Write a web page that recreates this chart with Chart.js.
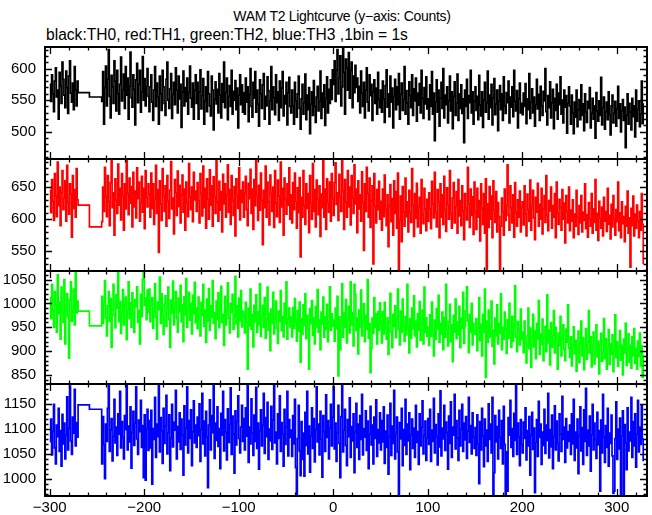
<!DOCTYPE html>
<html>
<head>
<meta charset="utf-8">
<script src="https://cdn.jsdelivr.net/npm/chart.js@4.4.0/dist/chart.umd.min.js"></script>
<style>
  html, body { margin: 0; padding: 0; background: #fff; }
  #wrap { position: relative; width: 652px; height: 515px; overflow: hidden; font-family: "Liberation Sans", Arial, Helvetica, sans-serif; }
  #wrap canvas { position: absolute; left: 0; top: 0; }
  .txt { position: absolute; color: #000; white-space: nowrap; line-height: 1; }
</style>
</head>
<body>
<div id="wrap">
  <div class="txt" id="title" style="left:0; width:684px; text-align:center; top:9px; font-size:14px; letter-spacing:-0.3px;">WAM T2 Lightcurve (y−axis: Counts)</div>
  <div class="txt" id="subtitle" style="left:46px; top:27px; font-size:15.6px;">black:TH0, red:TH1, green:TH2, blue:TH3 ,1bin = 1s</div>
  <canvas id="c0" width="652" height="515"></canvas>
  <canvas id="c1" width="652" height="515"></canvas>
  <canvas id="c2" width="652" height="515"></canvas>
  <canvas id="c3" width="652" height="515"></canvas>
</div>
<script>
// ---- time axis (seconds) ----
const earlyStart = -300;          // first bin of the early segment
const gapTimes = [-270, -258];    // two long bins inside the gap
const mainStart = -245;           // first bin of the main segment
const xMin = -305, xMax = 332;
const xTickLabels = [-300, -200, -100, 0, 100, 200, 300];

// ---- TH0 (black) ----
const th0Early = [575,548,590,560,532,580,601,555,566,520,594,572,545,610,583,558,538,596,570,529,588,612,561,547,577,535,603,566,541,580];
const th0Gap = [562, 555];
const th0Main = [
548,595,512,570,604,541,583,630,556,522,589,571,545,612,580,533,597,560,528,575,618,549,566,591,537,603,558,585,520,572,626,554,539,590,567,511,582,608,546,575,597,531,563,619,550,584,541,572,600,556,
532,571,590,547,518,566,603,540,577,555,512,588,560,534,597,571,545,526,583,610,550,537,568,592,521,559,578,543,601,566,530,588,552,575,507,563,596,541,570,548,585,528,562,604,553,539,577,520,566,590,
545,578,520,563,598,536,557,584,512,549,571,532,595,560,541,525,588,566,503,551,579,544,567,530,592,558,522,576,547,610,538,562,585,519,556,573,540,597,528,564,550,581,535,569,506,558,590,543,574,531,
562,528,585,547,571,516,559,600,540,523,578,553,595,531,566,544,509,582,560,537,574,592,520,556,541,587,565,512,549,603,535,571,554,527,590,546,563,518,580,538,569,595,525,557,544,578,511,562,586,540,
530,566,541,512,578,549,523,560,588,537,504,552,575,528,546,591,519,558,535,570,497,544,563,526,581,540,515,555,572,533,548,596,521,561,539,574,510,553,587,530,567,545,582,551,598,
575,612,548,598,630,560,585,620,541,571,632,594,528,615,601,566,625,553,597,610,538,588,562,605,570,
585,548,572,530,596,561,540,578,522,566,601,547,533,590,557,575,518,563,582,545,569,528,594,551,538,
566,531,580,552,515,573,598,539,560,524,588,547,569,506,556,583,535,571,543,592,520,559,577,534,551,603,528,565,546,512,579,557,538,590,526,568,549,585,517,561,542,576,530,597,553,521,570,544,587,536,
552,519,574,540,595,528,561,486,547,582,531,566,509,553,578,537,600,522,558,543,571,514,549,588,533,563,505,556,579,526,545,591,518,560,537,574,529,552,483,566,540,583,521,557,546,597,530,563,512,548,
571,534,556,519,589,542,525,563,507,550,578,531,546,596,520,558,538,575,511,553,584,527,544,566,502,549,573,535,560,518,587,541,529,562,546,580,514,555,539,571,524,597,548,533,565,506,552,577,530,545,
527,561,540,576,513,552,535,592,521,547,568,530,555,509,543,583,536,559,518,572,541,526,564,549,600,532,511,557,538,579,522,546,567,505,553,534,575,520,561,543,587,528,550,514,566,539,557,498,545,571,
541,512,558,530,497,547,523,566,508,535,551,519,574,526,544,502,560,531,515,548,537,570,506,529,553,520,541,490,562,533,517,549,526,586,511,538,555,504,532,547,519,563,527,495,541,558,514,530,548,509,536,572,521,544,500,533,551,518,539,475,526,560,512,545,531,503,553,524,541,492,566,517,535,549,508,528,580,513,545
];

// ---- TH1 (red) ----
const th1Early = [645,610,662,628,598,671,636,604,689,621,650,590,641,676,615,633,660,597,684,626,608,655,639,572,668,617,646,603,679,630];
const th1Gap = [622, 588];
const th1Main = [
596,650,612,681,635,604,668,627,590,657,694,618,641,575,663,630,609,686,622,648,599,671,637,583,655,616,692,640,607,664,625,651,588,673,619,644,602,680,632,658,597,626,667,611,648,585,676,634,619,655,
640,603,672,617,655,592,631,684,609,646,548,660,624,598,679,637,612,652,589,668,628,601,645,690,616,633,577,662,641,606,675,620,653,594,638,669,611,647,583,658,626,604,687,635,615,650,596,673,630,644,
612,657,629,594,671,640,605,683,618,648,586,663,631,600,677,622,652,589,666,635,609,692,627,597,659,614,643,580,670,624,655,603,638,685,611,646,592,668,629,606,651,574,663,637,617,680,599,645,626,658,
603,641,667,615,590,656,632,678,609,647,584,662,621,693,637,598,653,614,672,629,560,645,618,683,603,658,627,591,669,640,612,650,587,676,625,604,661,636,595,689,619,648,575,664,631,608,655,622,680,600,
638,594,657,615,672,628,586,649,610,665,541,634,603,676,621,592,655,617,640,579,668,625,600,687,612,646,588,661,630,607,652,573,639,618,694,603,647,584,663,626,611,658,597,671,632,
606,657,688,623,641,598,670,635,612,694,645,584,662,627,603,676,619,650,591,668,633,609,685,624,647,579,660,616,638,597,674,626,551,655,612,681,640,603,664,587,629,652,530,671,620,594,646,615,659,600,
628,583,647,604,669,615,590,638,557,621,654,596,632,575,660,609,643,586,672,520,598,636,565,651,612,589,664,604,627,580,645,610,595,679,622,573,640,601,656,588,619,634,578,662,607,593,648,616,582,631,
597,641,616,585,659,624,602,673,610,588,646,627,571,655,603,638,592,667,615,581,649,622,600,676,609,586,633,657,594,620,643,578,662,605,629,590,652,613,568,640,617,599,681,624,587,647,606,635,576,658,
612,584,648,603,629,566,655,617,592,640,578,663,522,624,587,651,600,636,571,660,614,595,643,580,626,604,521,589,633,612,575,647,598,621,685,606,583,652,618,594,638,572,657,610,589,630,603,644,580,619,
627,591,652,608,574,639,615,597,661,583,620,645,602,568,634,611,656,589,623,600,648,577,616,637,595,668,606,582,629,613,650,586,621,603,640,571,658,609,592,631,618,583,646,600,625,563,637,612,594,650,
582,614,597,630,571,608,589,645,603,576,621,594,637,580,611,598,655,585,607,572,626,600,589,640,578,616,595,662,583,609,567,628,601,586,619,574,634,597,612,581,648,592,606,569,623,588,637,600,575,615,596,658,582,610,571,627,593,604,565,620,589,644,578,602,525,617,590,636,574,608,586,622,597,571,612,583,640,592,530
];

// ---- TH2 (green) ----
const th2Early = [1012,968,1040,985,950,1025,997,940,1060,978,1003,925,1034,988,960,1050,915,995,1020,972,885,1008,1045,963,990,1030,955,1066,980,1005];
const th2Gap = [984, 953];
const th2Main = [
1015,958,1002,1048,970,932,995,1025,963,1010,908,987,1040,975,949,1018,990,1066,962,1004,937,980,1029,955,997,1013,924,986,1045,968,1001,950,1022,978,940,1008,993,1035,960,985,915,1019,972,1050,1068,996,1011,966,1028,981,
1030,962,995,1012,948,984,1041,970,925,1003,987,1055,958,1020,973,935,998,1016,952,989,1034,966,908,1007,980,1047,955,993,1025,969,940,1011,983,1038,961,997,920,1014,976,1052,950,988,1023,965,1000,936,1017,978,1044,959,
990,947,1013,968,932,1002,975,1040,952,986,918,1009,963,1031,944,995,971,1048,958,980,926,1005,966,1022,949,992,1036,960,977,912,1015,955,988,1043,969,938,1000,981,1019,946,973,1057,957,995,930,1011,964,1027,951,984,
975,938,1002,961,862,990,953,1030,946,977,909,996,962,1018,940,983,955,1041,931,970,996,950,1012,927,965,1034,944,979,901,988,958,1023,936,969,1005,948,916,984,962,1027,943,973,930,1000,957,1045,925,967,990,951,
972,930,991,948,1010,963,921,985,942,1003,877,968,935,997,954,1020,926,975,947,862,989,958,1006,933,970,915,994,951,1029,940,966,903,982,957,1013,929,972,946,998,920,961,1035,944,978,952,
965,921,990,947,1015,848,972,903,958,1041,929,981,950,1008,917,966,994,938,1045,955,980,911,1040,1019,943,970,894,986,951,1028,932,964,999,920,975,946,1050,927,958,855,905,969,937,1012,950,978,915,983,944,1001,
958,917,983,936,1002,949,925,970,893,961,1021,940,907,977,952,995,928,966,1030,945,913,984,939,1009,956,921,973,934,1040,950,896,968,927,990,947,1016,932,963,909,978,944,1004,923,959,986,915,1034,940,970,931,
950,912,976,931,1003,943,890,965,925,989,947,1017,918,958,936,982,903,970,929,1040,945,911,962,998,920,955,878,975,940,1009,926,961,934,994,907,969,948,1023,916,952,985,1035,964,897,977,939,1000,913,958,942,
935,968,901,949,1012,922,956,890,977,940,1030,845,963,918,986,929,951,1005,910,944,873,969,932,997,915,958,938,1020,903,950,925,982,946,895,966,927,1000,940,908,973,921,955,1037,930,899,962,944,913,988,924,
940,897,963,918,875,932,990,905,948,866,921,977,909,942,884,958,925,1006,893,936,914,967,880,929,952,899,1018,917,944,871,960,908,933,985,896,950,924,862,938,911,973,890,927,955,903,880,946,919,997,906,
887,930,869,912,951,894,923,858,905,942,876,917,963,890,928,861,908,947,883,919,985,896,930,867,911,940,873,902,955,888,921,852,914,937,879,898,968,884,926,862,907,945,872,915,893,934,857,901,976,886,920,868,909,943,881,912,850,925,896,958,870,903,936,877,912,864,930,890,947,874,905,862,921,889,938,869,911,845,892
];

// ---- TH3 (blue) ----
const th3Early = [1075,1120,1048,1096,1150,1062,1030,1108,1085,1142,1055,1097,1025,1130,1070,1112,1040,1088,1165,1058,1101,1187,1076,1049,1124,1092,1180,1066,1113,1084];
const th3Gap = [1149, 1140];
const th3Main = [
1030,1125,1068,1000,1110,1075,1142,1190,1055,1098,1121,1036,1085,1160,1072,1104,1047,1131,1090,1176,1062,1115,1083,1040,1127,1099,1188,1058,1106,1074,1145,1021,1093,1136,1067,1112,1185,1080,1049,1118,1095,1158,1063,1107,1002,1129,997,1101,1140,1057,
1117,1062,1138,989,1101,1079,1164,1043,1110,1085,1188,1054,1123,1096,1031,1142,1071,1106,1168,1050,1093,1129,1016,1082,1150,1064,1114,1098,1178,1040,1105,1074,1133,1059,1120,1089,1007,1147,1068,1102,1185,1052,1117,1081,1139,1026,1095,1157,1072,1108,
1063,1124,1087,1151,1035,1099,1172,1070,1116,1046,1136,1084,982,1108,1159,1058,1127,1093,1190,1041,1112,1077,1145,1065,1101,1020,1132,1088,1176,1056,1119,1094,1038,1141,1073,1109,1183,1049,1126,1090,1011,1137,1068,1115,1167,1081,1052,1104,1148,1075,
1121,1058,1143,1086,1190,1033,1104,1070,1161,1092,1047,1128,1075,1184,1061,1112,1019,1097,1139,1066,1108,1172,1051,1123,1085,1154,1039,1100,1076,1146,1059,1118,1188,1072,1094,1030,1131,1081,1167,1055,1113,1090,1025,1140,1069,1105,1176,1046,1119,1083,
1098,1045,1127,1070,1160,1022,968,1081,1148,1056,1006,1115,1039,1092,1005,1134,1067,1176,1050,1106,1013,1087,1143,1061,1121,1034,1099,1185,1074,1110,1048,1136,1079,1003,1127,1095,1055,1169,1083,1117,1040,1102,1150,1066,1124,
1186,1060,1112,1035,1093,1148,1071,1002,1125,1188,1054,1098,1140,1067,1026,1119,1085,1163,1043,1105,1076,1131,1012,1094,1152,1063,1110,1039,1127,1079,1170,1048,1101,1084,1137,1057,1116,1020,1090,1146,1068,1108,1030,1124,1081,1159,1045,1099,1072,1133,
1058,1117,1074,1145,1031,1096,1063,1128,1009,1085,1152,1047,1106,1071,1178,1040,1091,1124,1054,968,1113,1080,1142,1026,1099,1067,1160,1049,1110,1076,1133,1018,1089,1120,1061,1102,1043,1148,1073,1095,1029,1131,1066,1104,1157,1050,1087,1116,1037,1082,
1121,1069,1140,1035,1098,1075,1162,1052,1109,1085,1028,1131,1064,1177,1046,1102,1080,1148,1057,1114,1093,1019,1126,1071,1155,1043,1104,1088,1170,1060,1117,1082,1037,1138,1066,1099,1150,1055,1112,1078,1125,1041,1096,1164,1073,1107,1050,1133,1084,1061,
1103,1047,1129,1070,990,1115,1058,1142,1086,1024,1120,1066,1098,1035,1151,1079,1110,1052,1164,968,1012,1127,1074,1105,1040,1138,1083,1061,1117,1030,1146,1069,967,1054,975,1123,1088,1158,1063,1101,1045,1132,1077,1190,1049,1112,1085,1026,1119,1068,
1052,1114,1081,1143,1038,1097,1066,1125,1007,1088,1134,1059,1102,972,1073,1119,1045,1156,1083,1110,1029,1094,1067,1140,1051,1108,1077,1172,1042,1099,1064,1128,1020,1085,1147,1058,1116,1071,1036,1131,1090,1055,1166,1079,1104,1033,1121,1062,1095,1075,
1108,1049,1131,1070,1160,1037,1094,1062,1120,1010,1087,1145,1056,1103,1029,1139,1075,1182,1047,1098,1066,1126,1015,1089,1150,1058,1112,1079,1041,1134,1068,1097,975,1118,1052,1170,1084,1033,1107,1063,1142,1025,1092,1071,1128,1046,970,975,1081,1155,1039,1100,1060,1122,968,1086,1137,968,1109,1072,1018,1143,1056,1094,1076,1164,1043,1115,1066,1131,1023,1090,1158,1054,1104,1069,1147,1080,1035
];

// ---- y ranges and tick labels per panel ----
const yRanges = [[457, 634], [519, 694], [831, 1068], [965, 1191]];
const yTickLabels = [[500, 550, 600], [550, 600, 650], [850, 900, 950, 1000, 1050], [1000, 1050, 1100, 1150]];
const colors = ['#000000', '#ff0000', '#00ff00', '#0000ff'];
const panelBounds = [[47, 159], [159, 271], [271, 384], [384, 496]];

const series = [
  [th0Early, th0Gap, th0Main],
  [th1Early, th1Gap, th1Main],
  [th2Early, th2Gap, th2Main],
  [th3Early, th3Gap, th3Main]
];

function buildPoints(early, gap, main) {
  const pts = [];
  early.forEach((v, i) => pts.push({ x: earlyStart + i, y: v }));
  gap.forEach((v, i) => pts.push({ x: gapTimes[i], y: v }));
  main.forEach((v, i) => pts.push({ x: mainStart + i, y: v }));
  return pts;
}

const FONT = { family: '"Liberation Sans", Arial, Helvetica, sans-serif', size: 15 };
const minus = s => String(s).replace('-', '\u2212');

const frameTicks = {
  id: 'frameTicks',
  afterDatasetsDraw(chart) {
    const { ctx, chartArea: a, scales } = chart;
    const xs = scales.x, ys = scales.y;
    ctx.save();
    ctx.strokeStyle = '#000';
    ctx.lineWidth = 1.3;
    ctx.beginPath();
    for (let v = -300; v <= xMax; v += 20) {
      const len = (v % 100 === 0) ? 7 : 3.5;
      const px = Math.round(xs.getPixelForValue(v)) + 0.5;
      ctx.moveTo(px, a.top); ctx.lineTo(px, a.top + len);
      ctx.moveTo(px, a.bottom); ctx.lineTo(px, a.bottom - len);
    }
    const ymin = ys.min, ymax = ys.max;
    for (let v = Math.ceil(ymin / 10) * 10; v <= ymax; v += 10) {
      const len = (v % 50 === 0) ? 7 : 3.5;
      const py = Math.round(ys.getPixelForValue(v)) + 0.5;
      ctx.moveTo(a.left, py); ctx.lineTo(a.left + len, py);
      ctx.moveTo(a.right, py); ctx.lineTo(a.right - len, py);
    }
    ctx.stroke();
    ctx.lineWidth = 2;
    ctx.strokeRect(a.left, a.top, a.right - a.left, a.bottom - a.top);
    ctx.restore();
  }
};

series.forEach((s, i) => {
  const last = i === 3;
  const [top, bottom] = panelBounds[i];
  const xScale = {
    type: 'linear',
    min: xMin, max: xMax,
    display: last,
    grid: { display: false, drawTicks: false },
    border: { display: false },
    afterBuildTicks: sc => { sc.ticks = xTickLabels.map(v => ({ value: v })); },
    ticks: { color: '#000', font: FONT, padding: 3, maxRotation: 0, autoSkip: false, callback: v => minus(v) }
  };
  if (last) xScale.afterFit = sc => { sc.height = 515 - bottom; };
  new Chart(document.getElementById('c' + i), {
    type: 'line',
    data: {
      datasets: [{
        data: buildPoints(s[0], s[1], s[2]),
        borderColor: colors[i],
        borderWidth: 1.7,
        pointRadius: 0,
        stepped: true,
        fill: false,
        tension: 0
      }]
    },
    options: {
      responsive: false,
      animation: false,
      events: [],
      parsing: false,
      normalized: true,
      layout: { padding: { left: 0, right: 5, top: top, bottom: last ? 0 : 515 - bottom } },
      plugins: { legend: { display: false }, tooltip: { enabled: false }, title: { display: false } },
      scales: {
        x: xScale,
        y: {
          type: 'linear',
          min: yRanges[i][0], max: yRanges[i][1],
          grid: { display: false, drawTicks: false },
          border: { display: false },
          afterBuildTicks: sc => { sc.ticks = yTickLabels[i].map(v => ({ value: v })); },
          afterFit: sc => { sc.width = 45; },
          ticks: { color: '#000', font: FONT, padding: 9, autoSkip: false, callback: v => String(v) }
        }
      }
    },
    plugins: [frameTicks]
  });
});
</script>
</body>
</html>
